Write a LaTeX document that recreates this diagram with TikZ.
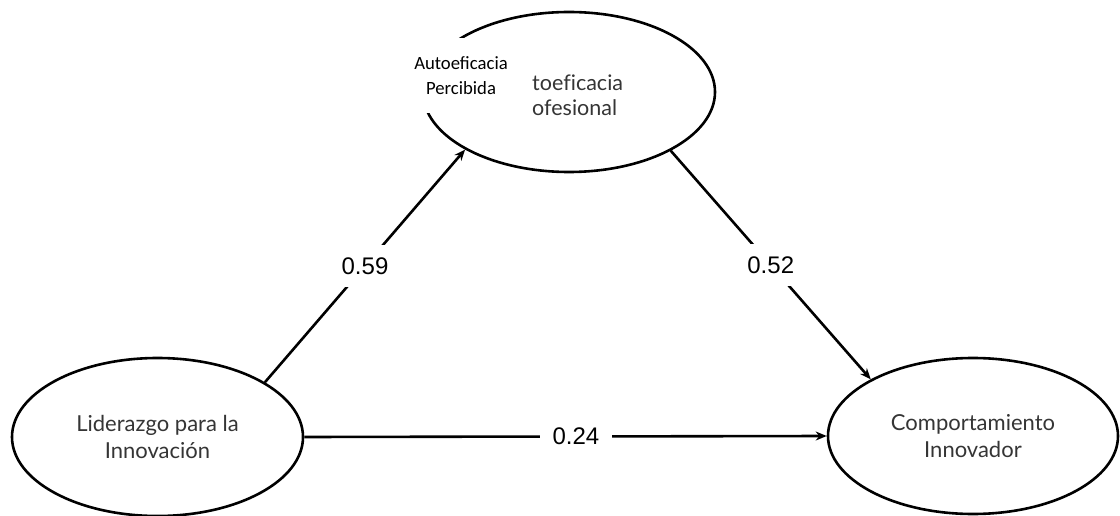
\documentclass[tikz,border=0pt]{standalone}
\usepackage{fontspec}
\setmainfont{Lato}[Ligatures=CommonOff]
\newfontfamily\labfont{Liberation Sans}
\newfontfamily\calfont{Carlito}
\usetikzlibrary{shapes.geometric,arrows.meta}
\definecolor{txtgray}{HTML}{353535}
\tikzset{
  latent/.style={ellipse, draw=black, line width=2.6pt, inner sep=0pt, fill=white,
    font=\fontsize{22}{27}\selectfont, text=txtgray, align=center},
  path/.style={line width=2.6pt, -{Stealth[length=11pt,width=9pt]}},
  coef/.style={fill=white, inner sep=0pt, minimum width=70pt, minimum height=40pt,
    font=\labfont\fontsize{24}{26}\selectfont, text=black}
}
\begin{document}
\begin{tikzpicture}[x=1pt,y=-1pt]
\useasboundingbox (0,0) rectangle (1120,516);
\node[latent, minimum width=292pt, minimum height=160pt] (T) at (569,92) {};
\node[latent, minimum width=291pt, minimum height=158pt] (L) at (157.5,437) {Liderazgo para la\\Innovación};
\node[latent, minimum width=290pt, minimum height=156pt] (R) at (973,436) {Comportamiento\\Innovador};
\node[anchor=west, font=\fontsize{21.5}{25}\selectfont, text=txtgray, align=left, inner sep=0pt] (Tt) at (532,95) {toeficacia\\ofesional};
\node[fill=white, minimum width=125pt, minimum height=75pt, inner sep=0pt, align=center,
  font=\calfont\fontsize{18.7}{25}\selectfont] (P) at (461,75.5) {Autoeficacia\\Percibida};
\draw[path] (L.27.1) -- node[coef, minimum height=42pt] (c1) {0.59} (T.209.3);
\draw[path] (T.330.1) -- node[coef, minimum height=42pt] (c2) {0.52} (R.151.1);
\draw[path] (L.east) -- node[coef, pos=0.52, minimum width=72pt] (c3) {0.24} (R.west);
\end{tikzpicture}
\end{document}
